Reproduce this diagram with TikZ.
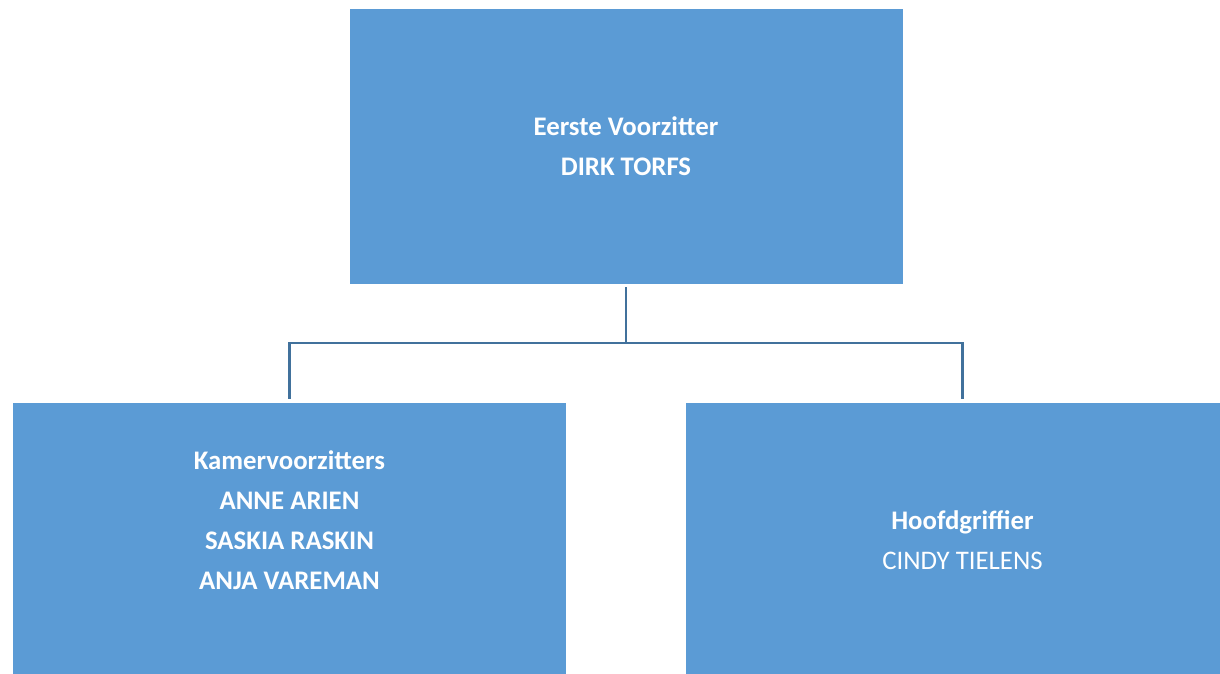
\documentclass[tikz,border=0pt]{standalone}
\usepackage{fontspec}
\setmainfont{Carlito}
\usetikzlibrary{calc}
\definecolor{boxblue}{HTML}{5B9BD5}
\definecolor{lineblue}{HTML}{41719C}
\tikzset{org box/.style={draw=none, fill=boxblue, minimum width=276.5pt,
           minimum height=136pt, inner sep=0pt},
     org text/.style={align=center, text=white, font=\fontsize{13.4}{20}\selectfont},
     org line/.style={draw=lineblue, line width=1.25pt}
     }
\begin{document}
\begin{tikzpicture}[x=0.5pt,y=-0.5pt]
\useasboundingbox (0,0) rectangle (1220,674);
\clip (0,0) rectangle (1220,674);
\node[org box, minimum height=137.5pt] (Top) at (626,146.5) {};
\node[org box] (Left) at (289.5,539) {};
\node[org box] (Right) at (962.5,539) {};
\node[org text] (TopText) at (626,146) {\textbf{Eerste Voorzitter}\\\textbf{DIRK TORFS}};
\node[org text] (LeftText) at (289.5,520.5) {\textbf{Kamervoorzitters}\\\textbf{ANNE ARIEN}\\\textbf{SASKIA RASKIN}\\\textbf{ANJA VAREMAN}};
\node[org text] (RightText) at (962.5,540.5) {\textbf{Hoofdgriffier}\\CINDY TIELENS};
% connectors
\coordinate (Bar) at (626,343);
\draw[org line, shorten <=1.5pt] (Top.south) -- (Top.south |- Bar);
\draw[org line, line cap=rect] (Left.north |- Bar) -- (Right.north |- Bar);
\draw[org line, shorten >=2pt] (Left.north |- Bar) -- (Left.north);
\draw[org line, shorten >=2pt] (Right.north |- Bar) -- (Right.north);
\end{tikzpicture}
\end{document}
